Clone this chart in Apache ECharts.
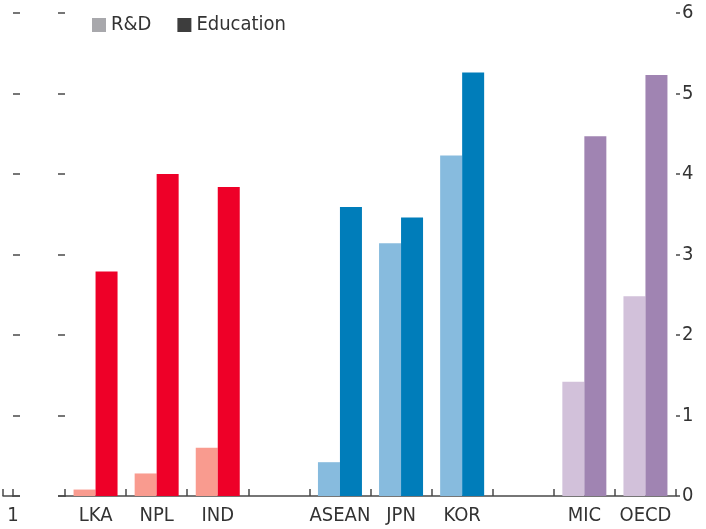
<!DOCTYPE html>
<html>
<head>
<meta charset="utf-8">
<script src="https://cdn.jsdelivr.net/npm/echarts@6/dist/echarts.min.js"></script>
<style>
html,body{margin:0;padding:0;background:#fff;}
#c{width:706px;height:529px;}
</style>
</head>
<body>
<div id="c"></div>
<script>
const categories = ['LKA','NPL','IND','','ASEAN','JPN','KOR','','MIC','OECD'];
const rdValues = [0.08,0.28,0.6,null,0.42,3.14,4.23,null,1.42,2.48];
const eduValues = [2.79,4.0,3.84,null,3.59,3.46,5.26,null,4.47,5.23];
const groups = [0,0,0,null,1,1,1,null,2,2];
const rdColors = ['#F99B8F','#87BBDE','#D2C1DA'];
const eduColors = ['#EE0028','#007DBA','#A084B2'];
const yTicks = [0,1,2,3,4,5,6];
const prevPanelLabels = ['','1'];

const FONT = "'Liberation Sans Narrow','Arial Narrow','DejaVu Sans Condensed','Liberation Sans',sans-serif";
const AX = '#4a4a4a';

function items(vals, cols){
  return vals.map((v,i)=> v==null ? null : {value:v, itemStyle:{color:cols[groups[i]]}});
}

const chart = echarts.init(document.getElementById('c'));
chart.setOption({
  animation:false,
  textStyle:{fontFamily:FONT},
  legend:{
    left:87, top:10, itemWidth:14, itemHeight:14, itemGap:26, icon:'rect',
    textStyle:{fontFamily:FONT, fontSize:20, color:'#333'},
    data:[{name:'R&D', itemStyle:{color:'#A8A8AC'}},{name:'Education', itemStyle:{color:'#3D3D3D'}}]
  },
  grid:[
    {left:65, right:30, top:13, bottom:33},
    {left:0, right:693, top:13, bottom:33}
  ],
  xAxis:[
    {type:'category', gridIndex:0, data:categories,
     axisLine:{lineStyle:{color:AX, width:1.5}},
     axisTick:{show:true, inside:true, length:7, interval:0, lineStyle:{color:AX, width:1.5}},
     axisLabel:{interval:0, fontSize:20, color:'#333', margin:10, fontFamily:FONT}},
    {type:'category', gridIndex:1, data:prevPanelLabels, boundaryGap:false,
     axisLine:{lineStyle:{color:AX, width:1.5}},
     axisTick:{show:true, inside:true, length:7, interval:0, lineStyle:{color:AX, width:1.5}},
     axisLabel:{interval:0, fontSize:20, color:'#333', margin:10, fontFamily:FONT}}
  ],
  yAxis:[
    {type:'value', gridIndex:0, position:'right', min:0, max:6, interval:1,
     splitLine:{show:false}, axisLine:{show:false},
     axisTick:{show:true, length:4, lineStyle:{color:AX, width:1.5}},
     axisLabel:{fontSize:20, color:'#333', margin:6, fontFamily:FONT,
       formatter:(v)=> yTicks.includes(v) ? String(v) : ''}},
    {type:'value', gridIndex:0, position:'left', min:0, max:6, interval:1,
     splitLine:{show:false}, axisLine:{show:false},
     axisTick:{show:true, length:7, lineStyle:{color:AX, width:1.5}},
     axisLabel:{show:false}},
    {type:'value', gridIndex:1, position:'right', min:0, max:6, interval:1,
     splitLine:{show:false}, axisLine:{show:false},
     axisTick:{show:true, inside:false, length:7, lineStyle:{color:AX, width:1.5}},
     axisLabel:{show:false}}
  ],
  graphic:[
    {type:'line', shape:{x1:58, y1:496, x2:66, y2:496}, style:{stroke:AX, lineWidth:1.5}, silent:true},
    {type:'line', shape:{x1:12, y1:496, x2:20, y2:496}, style:{stroke:AX, lineWidth:1.5}, silent:true}
  ],
  series:[
    {name:'R&D', type:'bar', xAxisIndex:0, yAxisIndex:0, barWidth:22, barGap:'0%',
     itemStyle:{color:'#A8A8AC'}, data:items(rdValues, rdColors)},
    {name:'Education', type:'bar', xAxisIndex:0, yAxisIndex:0, barWidth:22, barGap:'0%',
     itemStyle:{color:'#3D3D3D'}, data:items(eduValues, eduColors)}
  ]
});
</script>
</body>
</html>
